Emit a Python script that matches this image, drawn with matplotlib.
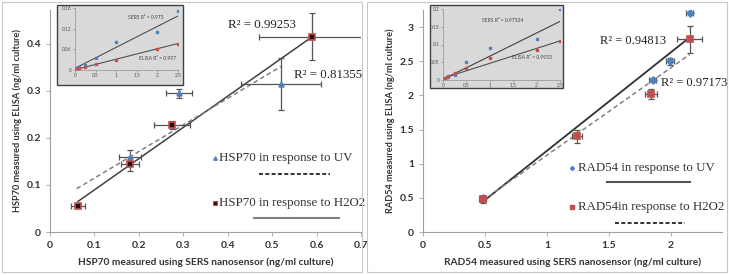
import numpy as np
import matplotlib
matplotlib.use("Agg")
import matplotlib.pyplot as plt
from matplotlib.patches import Rectangle

plt.rcParams['font.family'] = ['Lato', 'DejaVu Sans']

# ---- left panel: HSP70 ----
hsp_uv_x = [0.18, 0.29, 0.52]
hsp_uv_y = [0.16, 0.295, 0.315]
hsp_uv_xerr = [0.025, 0.03, 0.09]
hsp_uv_yerr = [0.015, 0.01, 0.055]

hsp_h2_x = [0.063, 0.18, 0.275, 0.59]
hsp_h2_y = [0.055, 0.145, 0.228, 0.415]
hsp_h2_xerr = [0.015, 0.02, 0.04, 0.12]
hsp_h2_yerr = [0.005, 0.015, 0.008, 0.05]

hsp_fit_solid = ([0.063, 0.59], [0.065, 0.415])
hsp_fit_dash = ([0.06, 0.52], [0.092, 0.352])

hsp_inset_x = [0.05, 0.1, 0.25, 0.5, 1.0, 2.0, 2.5]
hsp_inset_sers = [0.006, 0.01, 0.015, 0.035, 0.08, 0.11, 0.17]
hsp_inset_elisa = [0.002, 0.005, 0.008, 0.016, 0.03, 0.06, 0.075]

# ---- right panel: RAD54 ----
rad_uv_x = [0.48, 1.85, 1.99, 2.15]
rad_uv_y = [0.5, 2.22, 2.5, 3.2]
rad_uv_xerr = [0.02, 0.03, 0.03, 0.03]
rad_uv_yerr = [0.03, 0.03, 0.05, 0.0]

rad_h2_x = [0.48, 1.24, 1.84, 2.15]
rad_h2_y = [0.48, 1.4, 2.02, 2.82]
rad_h2_xerr = [0.03, 0.04, 0.05, 0.1]
rad_h2_yerr = [0.05, 0.1, 0.08, 0.2]

rad_fit_solid = ([0.48, 2.15], [0.44, 2.85])
rad_fit_dash = ([0.48, 2.15], [0.46, 2.6])

rad_inset_x = [0.05, 0.1, 0.25, 0.5, 1.0, 2.0, 2.5]
rad_inset_sers = [0.005, 0.008, 0.015, 0.05, 0.09, 0.115, 0.2]
rad_inset_elisa = [0.005, 0.012, 0.02, 0.033, 0.062, 0.085, 0.11]

W, H = 729, 275
fig = plt.figure(figsize=(W / 100, H / 100), dpi=100)


def fx(px):
    return px / W


def fy(py):
    return 1 - py / H


blue = '#4f81bd'
red = '#c0504d'
serif = ['Liberation Serif', 'DejaVu Serif']

# panel frames
for x0, x1 in [(2, 362), (367, 727)]:
    fig.patches.append(Rectangle((fx(x0), fy(272)), fx(x1 - x0), 270 / H,
                                 transform=fig.transFigure, fill=False,
                                 edgecolor='#c8c8c8', lw=0.8))


def style_main(ax):
    for s in ['top', 'right']:
        ax.spines[s].set_visible(False)
    for s in ['left', 'bottom']:
        ax.spines[s].set_color('#a0a0a0')
        ax.spines[s].set_linewidth(0.8)
    ax.tick_params(colors='#a0a0a0', labelcolor='#333333', length=3, width=0.6,
                   labelsize=7.5)
    for lab in ax.get_xticklabels() + ax.get_yticklabels():
        lab.set_fontweight('bold')


def errpts(ax, x, y, xe, ye, marker, fc, ec, ms):
    ax.errorbar(x, y, xerr=xe, yerr=ye, fmt='none', ecolor='#555555',
                elinewidth=0.9, capsize=2, capthick=0.9, zorder=3)
    ax.plot(x, y, linestyle='none', marker=marker, ms=ms, mfc=fc, mec=ec,
            mew=1.2, zorder=4)


def style_inset(ax, yticks, xticks):
    ax.set_facecolor('#d9d9d9')
    for s in ax.spines.values():
        s.set_color('#909090')
        s.set_linewidth(0.5)
    ax.spines['top'].set_visible(False)
    ax.spines['right'].set_visible(False)
    ax.set_xticks(xticks)
    ax.set_yticks(yticks)
    ax.tick_params(labelsize=3.5, length=1.5, width=0.4, colors='#777777',
                   labelcolor='#555555', pad=1)


# ---------- left main ----------
axl = fig.add_axes([fx(50), fy(232), fx(361 - 50), (232 - 10) / H])
axl.set_xlim(0, 0.7)
axl.set_ylim(0, 0.472)
axl.set_xticks(np.arange(0, 0.71, 0.1))
axl.set_yticks(np.arange(0, 0.41, 0.1))
axl.set_xticklabels(['0', '0.1', '0.2', '0.3', '0.4', '0.5', '0.6', '0.7'])
axl.set_yticklabels(['0', '0.1', '0.2', '0.3', '0.4'])
axl.plot(*hsp_fit_solid, color='#404040', lw=1.1, zorder=2)
axl.plot(*hsp_fit_dash, color='#808080', lw=1.1, ls=(0, (3, 2)), zorder=2)
errpts(axl, hsp_uv_x, hsp_uv_y, hsp_uv_xerr, hsp_uv_yerr, '^', blue, blue, 3.5)
errpts(axl, hsp_h2_x, hsp_h2_y, hsp_h2_xerr, hsp_h2_yerr, 's', '#2a0a0a', red, 5)
axl.text(0.40, 0.44, 'R² = 0.99253', family=serif, fontsize=9.3,
         color='#222222', va='center')
axl.text(0.55, 0.334, 'R² = 0.81355', family=serif, fontsize=9.3,
         color='#222222', va='center')
axl.plot([0.372], [0.158], '^', color=blue, ms=2.5)
axl.text(0.38, 0.158, 'HSP70 in response to UV', family=serif, fontsize=9.3,
         color='#333333', va='center')
axl.plot([0.47, 0.63], [0.123, 0.123], color='#222222', lw=1.3,
         ls=(0, (2.2, 1.3)))
axl.plot([0.372], [0.062], 's', mfc='#2a0a0a', mec=red, ms=3, mew=0.8)
axl.text(0.38, 0.062, 'HSP70 in response to H2O2', family=serif,
         fontsize=9.3, color='#333333', va='center')
axl.plot([0.46, 0.65], [0.03, 0.03], color='#808080', lw=1.5)
axl.set_xlabel('HSP70 measured using SERS nanosensor (ng/ml culture)',
               fontsize=7.3, fontweight='bold', color='#333333', labelpad=5)
axl.set_ylabel('HSP70 measured using ELISA (ng/ml culture)',
               fontsize=6.6, fontweight='bold', color='#333333', labelpad=3)
style_main(axl)

# left inset
fig.patches.append(Rectangle((fx(57), fy(85)), fx(183 - 57), (85 - 5) / H,
                             transform=fig.transFigure, facecolor='#d9d9d9',
                             edgecolor='#404040', lw=1.0, zorder=5))
axli = fig.add_axes([fx(75), fy(70), fx(178 - 75), (70 - 8) / H], zorder=6)
axli.set_xlim(0, 2.5)
axli.set_ylim(0, 0.18)
style_inset(axli, [0, 0.06, 0.12, 0.18], [0, 0.5, 1, 1.5, 2, 2.5])
axli.set_yticklabels(['0', '0.06', '0.12', '0.18'])
axli.set_xticklabels(['0', '0.5', '1', '1.5', '2', '2.5'])
axli.plot([0, 2.5], [0.005, 0.157], color='#505050', lw=0.8)
axli.plot([0, 2.5], [0.001, 0.077], color='#505050', lw=0.8)
axli.plot(hsp_inset_x, hsp_inset_sers, 's', color=blue, ms=1.8)
axli.plot(hsp_inset_x, hsp_inset_elisa, 's', color=red, ms=1.8)
axli.text(1.28, 0.147, 'SERS R² = 0.973', fontsize=3.6, color='#444444')
axli.text(1.55, 0.028, 'ELISA R² = 0.997', fontsize=3.6, color='#444444')

# ---------- right main ----------
axr = fig.add_axes([fx(423), fy(232), fx(722 - 423), (232 - 10) / H])
axr.set_xlim(0, 2.41)
axr.set_ylim(0, 3.25)
axr.set_xticks([0, 0.5, 1, 1.5, 2])
axr.set_xticklabels(['0', '0.5', '1', '1.5', '2'])
axr.set_yticks([0, 0.5, 1, 1.5, 2, 2.5, 3])
axr.set_yticklabels(['0', '0.5', '1', '1.5', '2', '2.5', '3'])
axr.plot(*rad_fit_solid, color='#303030', lw=1.3, zorder=2)
axr.plot(*rad_fit_dash, color='#808080', lw=1.1, ls=(0, (3, 2)), zorder=2)
errpts(axr, rad_uv_x, rad_uv_y, rad_uv_xerr, rad_uv_yerr, 'D', blue, blue, 3.5)
errpts(axr, rad_h2_x, rad_h2_y, rad_h2_xerr, rad_h2_yerr, 's', red, red, 5)
axr.text(1.43, 2.8, 'R² = 0.94813', family=serif, fontsize=9,
         color='#222222', va='center')
axr.text(1.92, 2.18, 'R² = 0.97173', family=serif, fontsize=9,
         color='#222222', va='center')
axr.plot([1.2], [0.93], 'D', color=blue, ms=2)
axr.text(1.25, 0.93, 'RAD54 in response to UV', family=serif, fontsize=9.3,
         color='#333333', va='center')
axr.plot([1.48, 2.15], [0.73, 0.73], color='#555555', lw=1.5)
axr.plot([1.2], [0.36], 's', color=red, ms=3)
axr.text(1.25, 0.36, 'RAD54in response to H2O2', family=serif, fontsize=9.3,
         color='#333333', va='center')
axr.plot([1.55, 2.11], [0.13, 0.13], color='#222222', lw=1.3,
         ls=(0, (2.2, 1.3)))
axr.set_xlabel('RAD54 measured using SERS nanosensor (ng/ml culture)',
               fontsize=7.3, fontweight='bold', color='#333333', labelpad=5)
axr.set_ylabel('RAD54 measured using ELISA (ng/ml culture)',
               fontsize=6.6, fontweight='bold', color='#333333', labelpad=3)
style_main(axr)

# right inset
fig.patches.append(Rectangle((fx(430), fy(88)), fx(563 - 430), (88 - 5) / H,
                             transform=fig.transFigure, facecolor='#d9d9d9',
                             edgecolor='#404040', lw=1.0, zorder=5))
axri = fig.add_axes([fx(443), fy(80), fx(560 - 443), (80 - 9) / H], zorder=6)
axri.set_xlim(0, 2.5)
axri.set_ylim(0, 0.2)
style_inset(axri, [0, 0.05, 0.1, 0.15, 0.2], [0, 0.5, 1, 1.5, 2, 2.5])
axri.set_yticklabels(['0', '0.05', '0.1', '0.15', '0.2'])
axri.set_xticklabels(['0', '0.5', '1', '1.5', '2', '2.5'])
axri.plot([0, 2.5], [0.002, 0.165], color='#404040', lw=0.8)
axri.plot([0, 2.5], [0.005, 0.11], color='#505050', lw=0.8)
axri.plot(rad_inset_x, rad_inset_sers, 's', color=blue, ms=1.8)
axri.plot(rad_inset_x, rad_inset_elisa, 's', color=red, ms=1.8)
axri.text(0.83, 0.162, 'SERS R² = 0.97324', fontsize=3.6, color='#444444')
axri.text(1.47, 0.058, 'ELISA R² = 0.9933', fontsize=3.6, color='#444444')

fig.savefig('out.png', dpi=100)
